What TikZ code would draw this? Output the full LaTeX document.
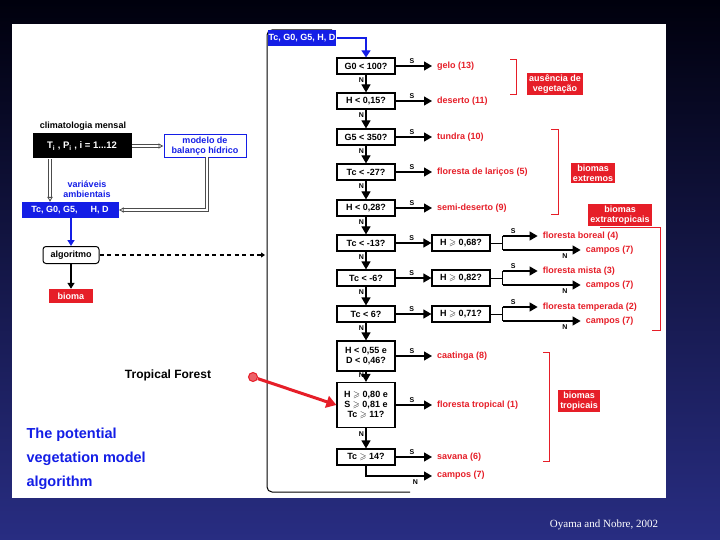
\documentclass[tikz,border=0pt]{standalone}
\usepackage{fontspec}
\setmainfont{Liberation Sans}
\usepackage{amssymb}
\usetikzlibrary{arrows.meta}
\definecolor{rd}{RGB}{230,30,40}
\definecolor{bl}{RGB}{20,30,230}
\definecolor{nav}{RGB}{40,45,130}
\begin{document}
\begin{tikzpicture}[x=1pt,y=-1pt,
 q/.style={draw,line width=1.2pt,fill=white,minimum width=58,minimum height=16,inner sep=1pt,font=\fontsize{9}{10}\selectfont\bfseries,align=center},
 o/.style={anchor=west,text=rd,font=\fontsize{9}{10}\selectfont\bfseries,inner sep=1pt},
 lab/.style={fill=rd,text=white,font=\fontsize{9}{10}\selectfont\bfseries,align=center,inner sep=2pt},
 ar/.style={line width=1.2pt,-{Triangle[length=8pt,width=9pt]}},
 sn/.style={font=\fontsize{7}{7}\selectfont\bfseries,inner sep=0pt},
 br/.style={rd,line width=1pt},
 dbl/.style={double=white,double distance=2pt,draw=gray!60!black,line width=0.8pt}]
\useasboundingbox (0,0) rectangle (720,540);
\shade[top color=black!95!blue,bottom color=nav] (0,0) rectangle (720,540);
\fill[white] (12,24) rectangle (666,498);
% frame
\draw[line width=1pt,rounded corners=5] (332,30) -- (267,30) -- (267,492) -- (410,492);
% top input
\node[fill=bl,text=white,font=\fontsize{9}{10}\selectfont\bfseries,minimum width=62,minimum height=16,inner sep=1pt] (in) at (302,38) {Tc, G0, G5, H, D};
% main column
\node[q] (a) at (366,66) {G0 < 100?};
\node[q] (b) at (366,101) {H < 0,15?};
\node[q] (c) at (366,137) {G5 < 350?};
\node[q] (d) at (366,172) {Tc < -27?};
\node[q] (e) at (366,208) {H < 0,28?};
\node[q] (f) at (366,243) {Tc < -13?};
\node[q] (g) at (366,278) {Tc < -6?};
\node[q] (h) at (366,314) {Tc < 6?};
\node[q,minimum height=30] (i) at (366,356) {H < 0,55 e\\D < 0,46?};
\node[q,minimum height=45] (j) at (366,405) {H $\geqslant$ 0,80 e\\S $\geqslant$ 0,81 e\\Tc $\geqslant$ 11?};
\node[q] (k) at (366,457) {Tc $\geqslant$ 14?};
\draw[bl,line width=1.2pt,-{Triangle[length=7pt,width=9pt]}] (in.east) -- (366,38) -- (a.north);
\foreach \u/\v in {a/b,b/c,c/d,d/e,e/f,f/g,g/h,h/i,i/j,j/k}{
 \draw[ar] (\u.south) -- node[sn,pos=0.3,left=1.5pt]{N} (\v.north);}
% outcomes
\foreach \n/\t in {a/{gelo (13)},b/{deserto (11)},c/{tundra (10)},d/{floresta de lariços (5)},e/{semi-deserto (9)},i/{caatinga (8)},j/{floresta tropical (1)},k/{savana (6)}}{
 \coordinate (t\n) at (432,0 |- \n.east);
 \draw[ar] (\n.east) -- node[sn,above=2pt,pos=0.45]{S} (t\n);
 \node[o] (o\n) at ([xshift=4pt]t\n) {\t};}
\coordinate (kc) at (366,476);
\coordinate (kt) at (432,476);
\draw[ar] (k.south) -- (kc) -- node[sn,below=3pt,pos=0.75]{N} (kt);
\node[o] (ok) at (436,475) {campos (7)};
% second column
\foreach \n/\t/\tt in {f/{H $\geqslant$ 0,68?}/{floresta boreal (4)},g/{H $\geqslant$ 0,82?}/{floresta mista (3)},h/{H $\geqslant$ 0,71?}/{floresta temperada (2)}}{
 \node[q] (s\n) at (461,0 |- \n) {\t};
 \draw[ar] (\n.east) -- node[sn,above=2pt,pos=0.45]{S} (s\n.west);
 \coordinate (u\n) at ([yshift=7,xshift=12]s\n.east);
 \coordinate (v\n) at ([yshift=-7,xshift=12]s\n.east);
 \coordinate (w\n) at ([xshift=35]u\n);
 \coordinate (x\n) at ([xshift=78]v\n);
 \draw[line width=1pt] (s\n.east) -- ++(12,0);
 \draw[line width=1pt] (u\n) -- (v\n);
 \draw[ar] (u\n) -- node[sn,above=2pt,pos=0.3]{S} (w\n);
 \draw[ar] (v\n) -- node[sn,below=3pt,pos=0.8]{N} (x\n);
 \node[o] at ([xshift=4pt]w\n) {\tt};
 \node[o] at ([xshift=4pt]x\n) {campos (7)};}
% brackets and labels
\draw[br] (510,60) -- (516,60) -- (516,95) -- (510,95);
\node[lab] (l1) at (555,84) {ausência de\\vegetação};
\draw[br] (551,130) -- (558,130) -- (558,215) -- (551,215);
\node[lab] (l2) at (593,173) {biomas\\extremos};
\node[lab] (l3) at (620,215) {biomas\\extratropicais};
\draw[br] (600,228) -- (660,228) -- (660,330) -- (652,330);
\draw[br] (543,352) -- (549,352) -- (549,461) -- (543,461);
\node[lab] (l4) at (579,401) {biomas\\tropicais};
% left diagram
\node[font=\fontsize{9}{10}\selectfont\bfseries] (cm) at (83,126) {climatologia mensal};
\node[fill=black,text=white,minimum width=99,minimum height=25,font=\fontsize{9.5}{10}\selectfont\bfseries] (cl) at (82,146) {T$_\mathbf{i}$ , P$_\mathbf{i}$ , i = 1...12};
\node[draw=bl,line width=1pt,text=bl,font=\fontsize{9}{10}\selectfont\bfseries,align=center,minimum width=82,inner sep=2pt] (mb) at (205,146) {modelo de\\balanço hídrico};
\node[text=bl,font=\fontsize{9}{10}\selectfont\bfseries,align=center] (va) at (87,189) {variáveis\\ambientais};
\node[fill=bl,text=white,minimum width=97,minimum height=16,inner sep=1pt,font=\fontsize{9}{10}\selectfont\bfseries] (vb) at (70,210) {Tc, G0, G5, \hspace{8pt} H, D};
\node[draw,line width=1pt,rounded corners=3,fill=white,minimum width=56,minimum height=17,inner sep=1pt,font=\fontsize{9}{10}\selectfont\bfseries] (al) at (71,255) {algoritmo};
\node[fill=rd,text=white,minimum width=44,minimum height=14,inner sep=1pt,font=\fontsize{9}{10}\selectfont\bfseries] (bi) at (71,296) {bioma};
\coordinate (m1) at (207,210);
\coordinate (m0) at (207,157);
\draw[dbl,-{Latex[open,length=5pt,width=6pt]}] (cl.east) -- (mb.west);
\draw[dbl,-{Latex[open,length=5pt,width=6pt]}] (50,159) -- (50,202);
\draw[dbl,-{Latex[open,length=5pt,width=6pt]}] (m0) -- (m1) -- (vb.east);
\draw[bl,line width=2pt,-{Triangle[length=6pt,width=7pt]}] (71,218) -- (al.north);
\draw[line width=2pt,-{Triangle[length=6pt,width=7pt]}] (al.south) -- (bi.north);
\coordinate (de) at (265,255);
\draw[line width=2pt,dash pattern=on 4pt off 3.5pt,-{Triangle[length=4pt,width=5pt]}] (al.east) -- (de);
% annotations
\node[font=\fontsize{12}{14}\selectfont\bfseries] (tf) at (168,375) {Tropical Forest};
\node[circle,draw=rd,fill=rd!70,line width=1pt,minimum size=9,inner sep=0] (dot) at (253,377) {};
\draw[rd,line width=3pt,-{Triangle[length=10pt,width=12pt]}] (dot) -- (j.west);
\node[anchor=north west,text=bl,align=left,font=\fontsize{14.5}{24}\selectfont\bfseries] (pv) at (23,424) {The potential\\vegetation model\\algorithm};
\node[text=white,font=\fontsize{11}{12}\fontspec{Liberation Serif}\selectfont] (cap) at (604,525) {Oyama and Nobre, 2002};
\end{tikzpicture}
\end{document}
